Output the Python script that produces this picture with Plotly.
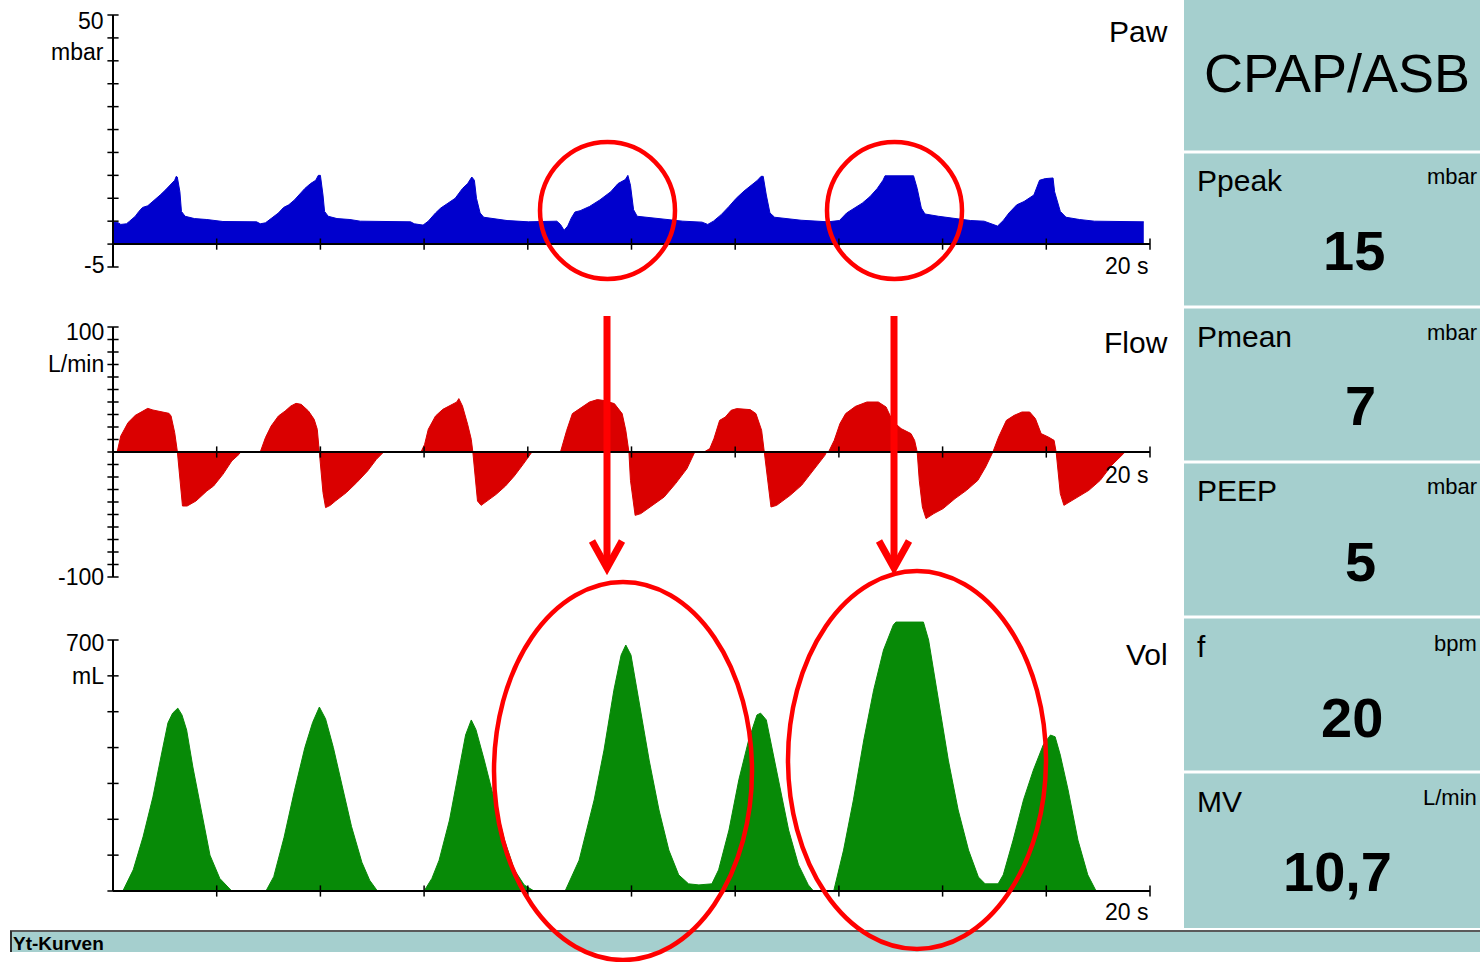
import plotly.graph_objects as go

# ---------------- data ----------------
paw_t = [0, 0.08, 0.15, 0.26, 0.32, 0.43, 0.5, 0.57, 0.67, 0.77, 0.91, 1.01, 1.12, 1.19, 1.22, 1.24, 1.29, 1.32, 1.39, 1.57, 1.81, 1.98, 2.12, 2.77, 2.84, 2.94,
         3.05, 3.19, 3.29, 3.39, 3.5, 3.6, 3.7, 3.81, 3.91, 3.96, 4.0, 4.05, 4.08, 4.15, 4.32, 4.57, 4.77, 5.74, 5.81, 5.98,
         6.08, 6.22, 6.32, 6.46, 6.6, 6.74, 6.84, 6.92, 6.97, 7.01, 7.08, 7.15, 7.32, 7.6, 8.01, 8.5, 8.56, 8.63, 8.70, 8.77, 8.84, 8.91,
         9.01, 9.19, 9.39, 9.6, 9.74, 9.88, 9.93, 9.98, 10.04, 10.11, 10.48, 10.85, 10.99, 11.36, 11.47, 11.58, 11.73, 11.88,
         12.02, 12.17, 12.32, 12.43, 12.5, 12.54, 12.6, 12.67, 12.76, 13.05, 13.27, 13.79, 14.01, 14.15, 14.3, 14.45, 14.6, 14.74,
         14.85, 14.89, 15.44, 15.51, 15.59, 15.66, 15.92, 16.29, 16.54, 16.8, 16.95, 17.06, 17.17, 17.28, 17.43, 17.57, 17.76,
         17.87, 17.98, 18.13, 18.16, 18.27, 18.38, 18.64, 18.93, 19.82, 19.88]
paw_v = [4.64, 4.79, 4.29, 4.43, 5.0, 6.07, 7.14, 8.0, 8.36, 9.29, 10.71, 11.79, 13.0, 13.93, 14.79, 14.64, 11.43, 7.14, 6.07, 5.57, 5.36, 5.14, 4.93, 4.86, 4.43, 4.64,
         5.57, 6.79, 8.0, 8.57, 9.64, 10.86, 12.14, 13.21, 13.93, 15.0, 15.0, 10.71, 7.14, 6.07, 5.57, 5.36, 5.0, 4.86, 4.43, 4.14,
         5.0, 6.79, 7.86, 8.93, 10.0, 12.14, 13.21, 14.64, 13.93, 10.0, 6.79, 5.86, 5.57, 5.14, 4.86, 4.86, 5.0, 4.29, 3.0, 3.93, 5.71, 7.0,
         7.29, 8.21, 9.64, 11.43, 13.21, 14.07, 15.0, 12.86, 7.5, 6.07, 5.57, 5.14, 5.0, 4.79, 4.29, 5.0, 6.43, 8.21,
         10.0, 11.57, 12.86, 13.93, 14.79, 14.79, 10.71, 6.79, 5.86, 5.57, 5.21, 4.86, 5.14, 6.79, 7.86, 8.93, 10.36, 12.14,
         13.93, 14.9, 14.9, 12.14, 7.86, 6.57, 6.07, 5.57, 5.14, 5.0, 4.29, 3.93, 5.14, 6.79, 8.57, 9.29, 10.71,
         13.93, 14.29, 14.43, 11.43, 7.14, 5.86, 5.36, 5.0, 4.86, 4.86]

flow_t = [0, 0.08, 0.15, 0.22, 0.29, 0.43, 0.53, 0.67, 0.77, 0.94, 1.08, 1.12, 1.19, 1.24, 1.27, 1.31, 1.34, 1.43, 1.6, 1.81, 1.94, 2.12, 2.29, 2.43, 2.46,
          2.84, 2.94, 3.05, 3.19, 3.32, 3.43, 3.53, 3.63, 3.77, 3.88, 3.94, 3.98, 4.01, 4.05, 4.1, 4.19, 4.29, 4.5, 4.7, 4.91, 5.08, 5.19, 5.22,
          5.94, 6.01, 6.08, 6.22, 6.36, 6.53, 6.63, 6.67, 6.74, 6.84, 6.91, 6.94, 6.98, 7.03, 7.1, 7.26, 7.39, 7.57, 7.74, 7.91, 8.05, 8.08,
          8.63, 8.75, 8.86, 9.0, 9.19, 9.34, 9.45, 9.67, 9.82, 9.89, 9.95, 9.98, 10.04, 10.07, 10.18, 10.41, 10.63, 10.85, 11.07, 11.22,
          11.4, 11.51, 11.59, 11.7, 11.81, 11.92, 12.03, 12.29, 12.4, 12.51, 12.56, 12.61, 12.66, 12.69, 12.8, 13.06, 13.28, 13.5, 13.73, 13.76,
          13.8, 13.91, 14.02, 14.13, 14.32, 14.54, 14.76, 14.91, 15.0, 15.09, 15.2, 15.39, 15.46, 15.51, 15.55, 15.61, 15.68, 15.83, 16.01,
          16.24, 16.46, 16.68, 16.83, 16.97,
          17.08, 17.23, 17.38, 17.53, 17.68, 17.79, 17.9, 18.04, 18.15, 18.19, 18.23, 18.27, 18.34, 18.45, 18.6, 18.82, 19.04, 19.26, 19.49, 19.52]
flow_v = [0, 0, 12.8, 18.1, 23.5, 29.3, 31.5, 34.9, 33.6, 32.3, 30.9, 28.8, 15.5, 0.8, -11.2, -29.9, -43.2, -43.2, -39.2, -31.2, -27.2, -17.9, -7.2, -1.9, 0,
          0, 11.5, 20.8, 28.8, 32.8, 36.8, 38.9, 38.1, 32.8, 26.1, 18.1, 0, -13.9, -32.5, -44.5, -42.7, -39.2, -32.5, -24.5, -15.2, -5.9, -1.1, 0,
          0, 6.1, 18.1, 28.8, 34.1, 38.1, 40.0, 42.7, 36.8, 22.1, 10.1, 0, -19.2, -39.2, -42.7, -37.9, -33.9, -27.2, -19.2, -9.9, -1.9, 0,
          0, 17.3, 30.7, 34.7, 40.0, 41.9, 41.3, 38.7, 30.7, 17.3, 0, -22.7, -44.0, -50.7, -49.3, -42.7, -36.0, -25.3, -13.3, 0,
          0, 2.7, 10.7, 25.3, 28.0, 33.3, 34.7, 33.9, 30.7, 17.3, 0, -17.3, -33.3, -44.0, -42.7, -34.7, -26.7, -14.7, -2.7, 0,
          0, 9.3, 22.7, 30.7, 36.5, 40.0, 40.0, 36.0, 28.0, 22.7, 18.7, 14.7, 9.3, 0, -22.7, -44.0, -53.3, -49.3, -45.3,
          -37.3, -30.7, -22.7, -12.0, 0,
          12.0, 25.3, 29.3, 32.0, 32.0, 26.7, 14.7, 12.0, 9.3, 0, -14.7, -33.3, -42.7, -40.0, -36.0, -30.7, -22.7, -10.7, -1.3, 0]

vol_t = [0.19, 0.39, 0.58, 0.77, 0.94, 1.06, 1.15, 1.25, 1.33, 1.42, 1.54, 1.67, 1.87, 2.06, 2.29,
         2.95, 3.1, 3.3, 3.5, 3.7, 3.85, 3.98, 4.1, 4.25, 4.45, 4.6, 4.8, 4.95, 5.1,
         6.0, 6.15, 6.29, 6.49, 6.68, 6.8, 6.91, 7.0, 7.16, 7.35, 7.55, 7.74, 7.93, 8.12,
         8.72, 8.99, 9.28, 9.47, 9.66, 9.8, 9.89, 9.99, 10.14, 10.34, 10.53, 10.72, 10.91, 11.1, 11.3, 11.55,
         11.68, 11.88, 12.07, 12.26, 12.42, 12.49, 12.6, 12.8, 13.03, 13.22, 13.41, 13.51,
         13.9, 14.09, 14.28, 14.48, 14.67, 14.86, 15.05, 15.1, 15.63, 15.73, 15.92, 16.11, 16.3, 16.5, 16.69, 16.82, 17.07,
         17.17, 17.36, 17.56, 17.75, 17.94, 18.08, 18.17, 18.27, 18.42, 18.61, 18.8, 18.96]
vol_v = [0, 59, 151, 262, 385, 469, 496, 510, 491, 449, 346, 245, 100, 35, 0,
         0, 40, 150, 280, 400, 470, 513, 480, 400, 270, 180, 80, 30, 0,
         0, 35, 86, 198, 337, 435, 477, 450, 365, 254, 142, 59, 17, 0,
         0, 86, 254, 393, 560, 658, 686, 658, 533, 365, 226, 114, 45, 20, 17, 20,
         59, 170, 310, 421, 491, 496, 477, 337, 170, 73, 17, 0,
         0, 114, 254, 421, 560, 672, 742, 750, 750, 700, 533, 365, 226, 114, 39, 20, 20,
         45, 142, 254, 337, 407, 435, 430, 379, 282, 142, 45, 0]

time_ticks = [2, 4, 6, 8, 10, 12, 14, 16, 18, 20]
paw_ticks = [-5, 0, 5, 10, 15, 20, 25, 30, 35, 40, 45, 50]
flow_ticks = [-100, -90, -80, -70, -60, -50, -40, -30, -20, -10, 0, 10, 20, 30, 40, 50, 60, 70, 80, 90, 100]
vol_ticks = [0, 100, 200, 300, 400, 500, 600, 700]

param_names = ["Ppeak", "Pmean", "PEEP", "f", "MV"]
param_units = ["mbar", "mbar", "mbar", "bpm", "L/min"]
param_values = ["15", "7", "5", "20", "10,7"]
mode_label = "CPAP/ASB"

# ---------------- styling ----------------
W, H = 1480, 962
FONT = "Liberation Sans, Arial, sans-serif"
BLUE = "#0000CD"
RED = "#DA0000"
GREEN = "#078A07"
TEAL = "#A5CFCE"
MARK = "#FF0000"


def fx(x):
    return x / W


def fy(y):
    return 1 - y / H


fig = go.Figure()

# filled curves
fig.add_trace(go.Scatter(x=paw_t, y=paw_v, mode="lines", fill="tozeroy", fillcolor=BLUE,
                         line=dict(color=BLUE, width=1), xaxis="x", yaxis="y", hoverinfo="skip"))
fig.add_trace(go.Scatter(x=flow_t, y=flow_v, mode="lines", fill="tozeroy", fillcolor=RED,
                         line=dict(color=RED, width=1), xaxis="x2", yaxis="y2", hoverinfo="skip"))
fig.add_trace(go.Scatter(x=vol_t, y=vol_v, mode="lines", fill="tozeroy", fillcolor=GREEN,
                         line=dict(color=GREEN, width=1), xaxis="x3", yaxis="y3", hoverinfo="skip"))

# tick marks
for xa, ya, yt in [("x", "y", paw_ticks), ("x2", "y2", flow_ticks), ("x3", "y3", vol_ticks)]:
    fig.add_trace(go.Scatter(x=time_ticks, y=[0] * len(time_ticks), mode="markers", xaxis=xa, yaxis=ya,
                             marker=dict(symbol="line-ns", size=8, line=dict(color="black", width=1.5)),
                             cliponaxis=False, hoverinfo="skip"))
    fig.add_trace(go.Scatter(x=[0] * len(yt), y=yt, mode="markers", xaxis=xa, yaxis=ya,
                             marker=dict(symbol="line-ew", size=8, line=dict(color="black", width=1.5)),
                             cliponaxis=False, hoverinfo="skip"))

# axes geometry (pixels of the reference)
X0, X1 = 113, 1150
pps = (X1 - X0) / 20.0
xr = [-10 / pps, 20 + 10 / pps]
xdom = [fx(X0 - 10), fx(X1 + 10)]
vol_ppm = (891 - 640) / 700.0
common = dict(visible=False, showgrid=False, zeroline=False, fixedrange=True)
fig.update_layout(
    xaxis=dict(domain=xdom, range=xr, anchor="y", **common),
    xaxis2=dict(domain=xdom, range=xr, anchor="y2", **common),
    xaxis3=dict(domain=xdom, range=xr, anchor="y3", **common),
    yaxis=dict(domain=[fy(267), fy(15)], range=[-5, 50], anchor="x", **common),
    yaxis2=dict(domain=[fy(577), fy(327)], range=[-100, 100], anchor="x2", **common),
    yaxis3=dict(domain=[fy(900), fy(615)], range=[-9 / vol_ppm, (891 - 615) / vol_ppm], anchor="x3", **common),
)

shapes = []
# right panel
shapes.append(dict(type="rect", xref="paper", yref="paper", x0=fx(1184), x1=1.01, y0=fy(928), y1=1.01,
                   fillcolor=TEAL, line=dict(width=0), layer="below"))
for ysep in [152, 307, 462, 617, 772]:
    shapes.append(dict(type="line", xref="paper", yref="paper", x0=fx(1184), x1=1.01, y0=fy(ysep), y1=fy(ysep),
                       line=dict(color="white", width=3)))
# bottom bar
shapes.append(dict(type="rect", xref="paper", yref="paper", x0=fx(10), x1=1.01, y0=fy(952), y1=fy(931),
                   fillcolor=TEAL, line=dict(width=0), layer="below"))
shapes.append(dict(type="line", xref="paper", yref="paper", x0=fx(10), x1=1.01, y0=fy(931), y1=fy(931),
                   line=dict(color="#5a5a5a", width=2)))
shapes.append(dict(type="line", xref="paper", yref="paper", x0=fx(11), x1=fx(11), y0=fy(931), y1=fy(952),
                   line=dict(color="#303030", width=2)))
# axis lines
for xa, ya, lo, hi in [("x", "y", -5, 50), ("x2", "y2", -100, 100), ("x3", "y3", 0, 700)]:
    shapes.append(dict(type="line", xref=xa, yref=ya, x0=0, x1=20, y0=0, y1=0, line=dict(color="black", width=2)))
    shapes.append(dict(type="line", xref=xa, yref=ya, x0=0, x1=0, y0=lo, y1=hi, line=dict(color="black", width=2)))

# red highlight marks
for (l, r, t, b) in [(540, 675, 142, 279), (827, 962, 142, 279)]:
    shapes.append(dict(type="circle", xref="paper", yref="paper", x0=fx(l), x1=fx(r), y0=fy(b), y1=fy(t),
                       line=dict(color=MARK, width=4.5)))
for (l, r, t, b) in [(494, 752, 582, 960), (788, 1046, 571, 949)]:
    shapes.append(dict(type="circle", xref="paper", yref="paper", x0=fx(l), x1=fx(r), y0=fy(b), y1=fy(t),
                       line=dict(color=MARK, width=4.5)))
for ax in [607, 894]:
    shapes.append(dict(type="line", xref="paper", yref="paper", x0=fx(ax), x1=fx(ax), y0=fy(316), y1=fy(566),
                       line=dict(color=MARK, width=7)))
    path = "M {:.5f},{:.5f} L {:.5f},{:.5f} L {:.5f},{:.5f}".format(
        fx(ax - 15), fy(541), fx(ax), fy(568), fx(ax + 15), fy(541))
    shapes.append(dict(type="path", xref="paper", yref="paper", path=path,
                       line=dict(color=MARK, width=7)))

annotations = []


def txt(text, x, y, size, xanchor="center", bold=False):
    annotations.append(dict(text=("<b>%s</b>" % text) if bold else text, xref="paper", yref="paper",
                            x=fx(x), y=fy(y), xanchor=xanchor, yanchor="middle", showarrow=False,
                            font=dict(family=FONT, size=size, color="black")))


# y-axis labels
for t_, y_ in [("50", 21), ("mbar", 52), ("-5", 265), ("100", 332), ("L/min", 364), ("-100", 577),
               ("700", 643), ("mL", 676)]:
    txt(t_, 106, y_, 23, "right")
# panel titles
for t_, y_ in [("Paw", 31), ("Flow", 342), ("Vol", 654)]:
    txt(t_, 1170, y_, 30, "right")
for y_ in [266, 475, 912]:
    txt("20 s", 1150, y_, 23, "right")

# right panel texts
txt(mode_label, 1337, 73, 54)
name_y = [181, 336, 491, 646, 801]
unit_y = [177, 332, 487, 643, 797]
val_y = [251, 405, 561, 717, 871]
val_x = [1354, 1360, 1360, 1352, 1337]
for i in range(5):
    txt(param_names[i], 1195, name_y[i], 30, "left")
    txt(param_units[i], 1479, unit_y[i], 22, "right")
    txt(param_values[i], val_x[i], val_y[i], 56, "center", bold=True)

txt("<b>Yt-Kurven</b>", 11, 943, 19, "left")

fig.update_layout(width=W, height=H, margin=dict(l=0, r=0, t=0, b=0), showlegend=False,
                  paper_bgcolor="white", plot_bgcolor="rgba(0,0,0,0)",
                  shapes=shapes, annotations=annotations)

fig.write_html("out.html", config={"displayModeBar": False},
               post_script="document.body.style.margin='0';document.body.style.overflow='hidden';")
